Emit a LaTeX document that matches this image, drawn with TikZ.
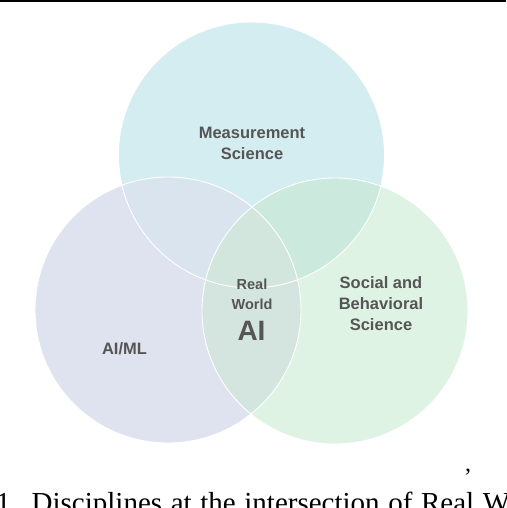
\documentclass[tikz,border=0pt]{standalone}
\usepackage{fontspec}
\setmainfont{Liberation Serif}
\newfontfamily\labfont{Liberation Sans}
\definecolor{topc}{HTML}{D4EDF1}
\definecolor{leftc}{HTML}{DFE3EF}
\definecolor{rightc}{HTML}{DFF3E5}
\definecolor{tlc}{HTML}{DAE4EE}
\definecolor{trc}{HTML}{CBEADD}
\definecolor{lrc}{HTML}{D4E5E0}
\definecolor{allc}{HTML}{D2E6DE}
\definecolor{labc}{HTML}{555555}
\tikzset{
  lab/.style={font=\labfont\bfseries\fontsize{16.5}{21}\selectfont, text=labc, align=center, inner sep=0pt},
  small/.style={font=\labfont\bfseries\fontsize{14.5}{20}\selectfont, text=labc, align=center, inner sep=0pt},
  big/.style={font=\labfont\bfseries\fontsize{28}{31}\selectfont, text=labc, inner sep=0pt},
  edge/.style={draw=white, line width=0.9pt},
  captxt/.style={font=\fontsize{29}{34}\selectfont, text=black, inner sep=0pt}
}
\begin{document}
\begin{tikzpicture}[x=1pt,y=-1pt]
\useasboundingbox (0,0) rectangle (506,508);
\def\R{133}
\coordinate (ct) at (251.5,155);
\coordinate (cl) at (168,310);
\coordinate (cr) at (335,311);
% top rule
\fill[black] (0,0) rectangle (506,2);
% single circles
\fill[leftc] (cl) circle[radius=\R];
\fill[rightc] (cr) circle[radius=\R];
\fill[topc] (ct) circle[radius=\R];
% pairwise overlaps
\begin{scope}
  \clip (ct) circle[radius=\R];
  \fill[tlc] (cl) circle[radius=\R];
  \fill[trc] (cr) circle[radius=\R];
\end{scope}
\begin{scope}
  \clip (cl) circle[radius=\R];
  \fill[lrc] (cr) circle[radius=\R];
  \clip (ct) circle[radius=\R];
  \fill[allc] (cr) circle[radius=\R];
\end{scope}
% white borders
\draw[edge] (ct) circle[radius=\R];
\draw[edge] (cl) circle[radius=\R];
\draw[edge] (cr) circle[radius=\R];
% labels
\node[lab] (ms) at (252,143.5) {Measurement\\Science};
\node[small] (rw) at (252,294) {Real\\World};
\node[big, anchor=base] (ai) at (251.5,340) {AI};
\node[lab] (sbs) at (381,303.5) {Social and\\Behavioral\\Science};
\node[lab, anchor=base] (aiml) at (124.5,354) {AI/ML};
% comma and caption
\node[captxt, font=\fontsize{24}{28}\selectfont, anchor=base] (comma) at (468,471) {,};
\node[captxt, anchor=base west] (cap) at (-4,512) {\makebox[514pt][s]{1. Disciplines at the intersection of Real W}};
\end{tikzpicture}
\end{document}
